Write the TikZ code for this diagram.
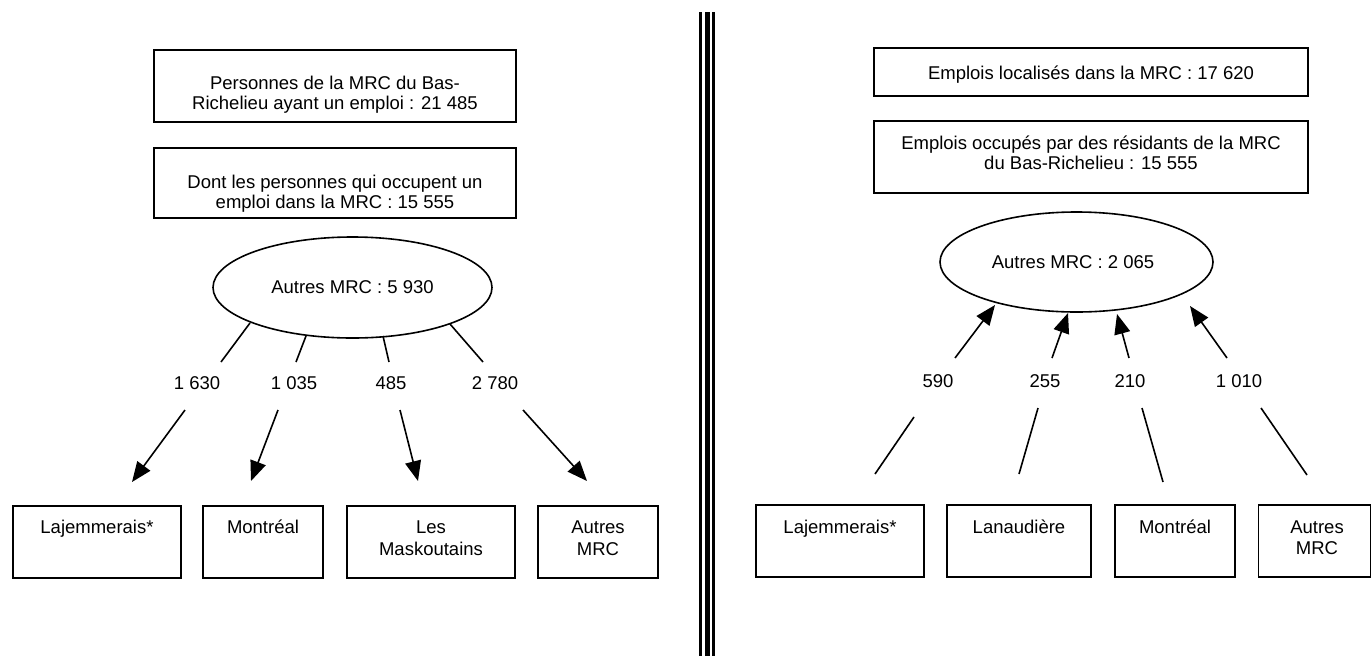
\documentclass[tikz,border=0pt]{standalone}
\usepackage{fontspec}
\setmainfont{Liberation Sans}
\usetikzlibrary{arrows.meta,shapes.geometric}
\begin{document}
\begin{tikzpicture}[x=1pt,y=-1pt,
  box/.style={draw, line width=1.6pt, inner sep=0pt, minimum height=72pt},
  oval/.style={draw, ellipse, line width=1.6pt, inner sep=0pt},
  txt/.style={font=\fontsize{18.5}{20.5}\selectfont, inner sep=0pt, anchor=base},
  link/.style={line width=1.6pt},
  arr/.style={line width=1.6pt, -{Triangle[length=20pt,width=16pt]}},
  bar/.style={line width=#1}]
\useasboundingbox (0,0) rectangle (1372,656);

% ---------- divider ----------
\coordinate (d1t) at (700.5,12); \coordinate (d1b) at (700.5,656);
\coordinate (d2t) at (707,12);   \coordinate (d2b) at (707,656);
\coordinate (d3t) at (713.5,12); \coordinate (d3b) at (713.5,656);
\draw[bar=3pt] (d1t) -- (d1b);
\draw[bar=5pt] (d2t) -- (d2b);
\draw[bar=3pt] (d3t) -- (d3b);

% ---------- left part ----------
\node[box, minimum width=362pt] (lb1) at (335,86) {};
\node[txt] (lb1a) at (335,89.6) {Personnes de la MRC du Bas-};
\node[txt] (lb1b) at (335,109) {Richelieu ayant un emploi : 21 485};
\node[box, minimum width=362pt, minimum height=70pt] (lb2) at (335,183) {};
\node[txt] (lb2a) at (335,188.6) {Dont les personnes qui occupent un};
\node[txt] (lb2b) at (335,208) {emploi dans la MRC : 15 555};

\node[oval, minimum width=279pt, minimum height=101pt] (le) at (352.5,287.5) {};
\node[txt] (let) at (352.5,293.6) {Autres MRC : 5 930};

\node[txt] (l1) at (197,389.6) {1 630};
\node[txt] (l2) at (294,389.6) {1 035};
\node[txt] (l3) at (391,389.6) {485};
\node[txt] (l4) at (495,389.6) {2 780};

\coordinate (le1) at (250,323); \coordinate (l1t) at (221,362);
\coordinate (le2) at (306,336); \coordinate (l2t) at (296,362);
\coordinate (le3) at (383,336); \coordinate (l3t) at (389,362);
\coordinate (le4) at (450,324); \coordinate (l4t) at (483,362);
\draw[link] (le1) -- (l1t);
\draw[link] (le2) -- (l2t);
\draw[link] (le3) -- (l3t);
\draw[link] (le4) -- (l4t);

\coordinate (l1b) at (185,410); \coordinate (ld1) at (132,482);
\coordinate (l2b) at (278,410); \coordinate (ld2) at (251,481);
\coordinate (l3b) at (400,410); \coordinate (ld3) at (418,481);
\coordinate (l4b) at (523,410); \coordinate (ld4) at (587,481);
\draw[arr] (l1b) -- (ld1);
\draw[arr] (l2b) -- (ld2);
\draw[arr] (l3b) -- (ld3);
\draw[arr] (l4b) -- (ld4);

\node[box, minimum width=168pt] (lq1) at (97,542) {};
\node[txt] (lq1a) at (97,533.6) {Lajemmerais*};
\node[box, minimum width=120pt] (lq2) at (263,542) {};
\node[txt] (lq2a) at (263,533.6) {Montréal};
\node[box, minimum width=168pt] (lq3) at (431,542) {};
\node[txt] (lq3a) at (431,533.6) {Les};
\node[txt] (lq3b) at (431,555.1) {Maskoutains};
\node[box, minimum width=120pt] (lq4) at (598,542) {};
\node[txt] (lq4a) at (598,533.6) {Autres};
\node[txt] (lq4b) at (598,555.1) {MRC};

% ---------- right part ----------
\node[box, minimum width=434pt, minimum height=48pt] (rb1) at (1091,72) {};
\node[txt] (rb1a) at (1091,79.6) {Emplois localisés dans la MRC : 17 620};
\node[box, minimum width=434pt] (rb2) at (1091,157) {};
\node[txt] (rb2a) at (1091,149.6) {Emplois occupés par des résidants de la MRC};
\node[txt] (rb2b) at (1091,169.6) {du Bas-Richelieu : 15 555};

\node[oval, minimum width=273pt, minimum height=100pt] (re) at (1076.5,262) {};
\node[txt] (ret) at (1073,268.6) {Autres MRC : 2 065};

\node[txt] (r1) at (938,387.6) {590};
\node[txt] (r2) at (1045,387.6) {255};
\node[txt] (r3) at (1130,387.6) {210};
\node[txt] (r4) at (1239,387.6) {1 010};

\coordinate (r1t) at (955,358);  \coordinate (re1) at (995,305);
\coordinate (r2t) at (1052,358); \coordinate (re2) at (1068,313);
\coordinate (r3t) at (1129,358); \coordinate (re3) at (1117,314);
\coordinate (r4t) at (1227,358); \coordinate (re4) at (1190,306);
\draw[arr] (r1t) -- (re1);
\draw[arr] (r2t) -- (re2);
\draw[arr] (r3t) -- (re3);
\draw[arr] (r4t) -- (re4);

\coordinate (r1b) at (914,417);  \coordinate (rd1) at (875,474);
\coordinate (r2b) at (1038,408); \coordinate (rd2) at (1019,474);
\coordinate (r3b) at (1142,408); \coordinate (rd3) at (1163,482);
\coordinate (r4b) at (1261,408); \coordinate (rd4) at (1307,475);
\draw[link] (r1b) -- (rd1);
\draw[link] (r2b) -- (rd2);
\draw[link] (r3b) -- (rd3);
\draw[link] (r4b) -- (rd4);

\node[box, minimum width=168pt] (rq1) at (840,541) {};
\node[txt] (rq1a) at (840,533) {Lajemmerais*};
\node[box, minimum width=144pt] (rq2) at (1019,541) {};
\node[txt] (rq2a) at (1019,533) {Lanaudière};
\node[box, minimum width=120pt] (rq3) at (1175,541) {};
\node[txt] (rq3a) at (1175,533) {Montréal};
\node[box, minimum width=112pt] (rq4) at (1314.5,541) {};
\node[txt] (rq4a) at (1317,533) {Autres};
\node[txt] (rq4b) at (1317,554.5) {MRC};
\end{tikzpicture}
\end{document}
